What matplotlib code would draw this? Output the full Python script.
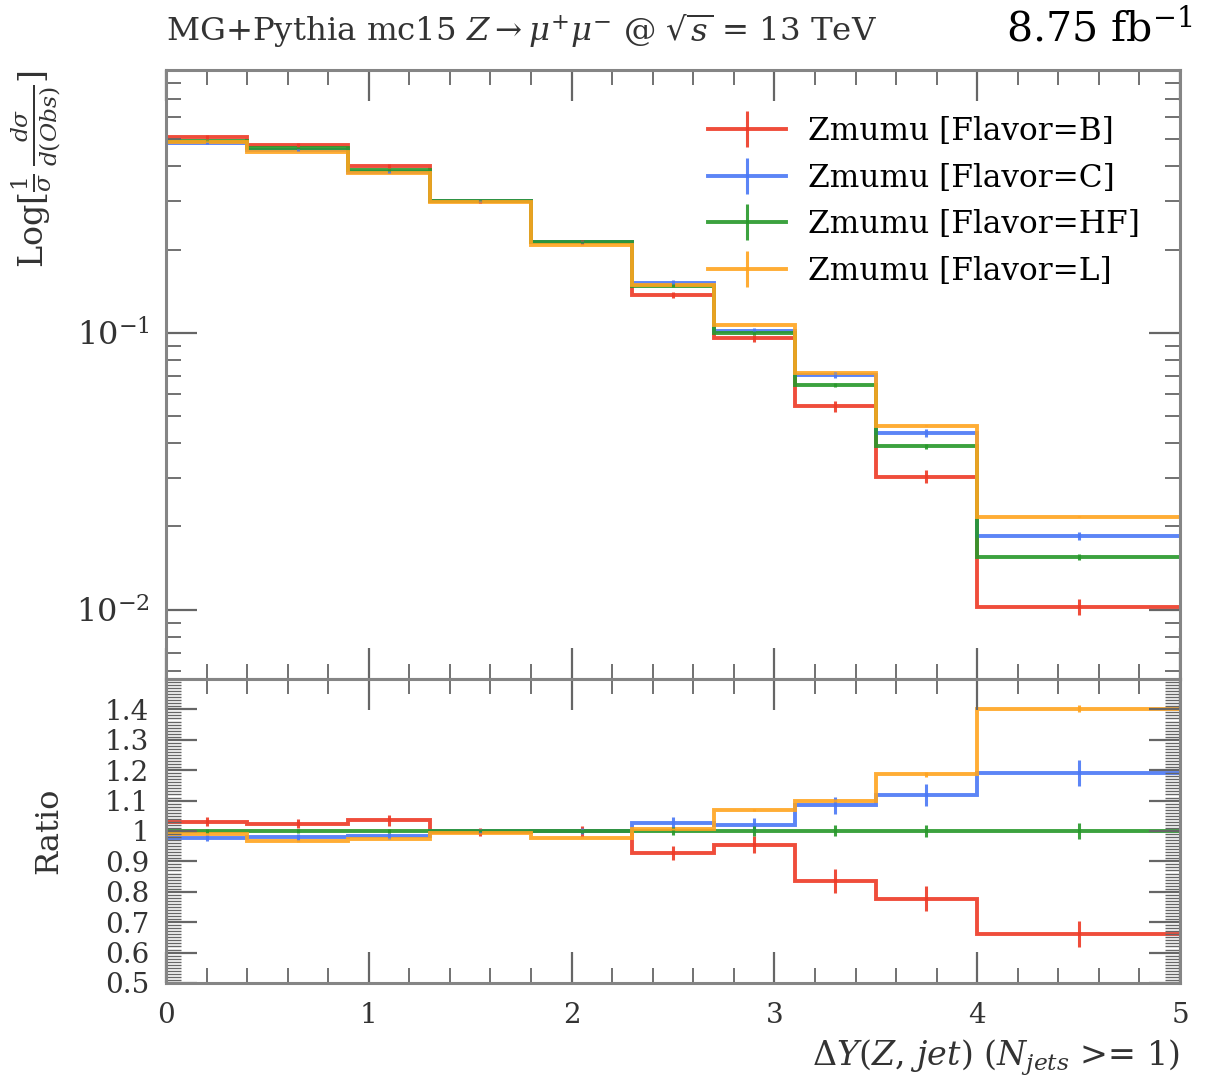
import numpy as np
import matplotlib
matplotlib.use("Agg")
import matplotlib.pyplot as plt
from matplotlib.ticker import MultipleLocator, FixedLocator, LogLocator, FuncFormatter, NullFormatter
from matplotlib.lines import Line2D

plt.rcParams['font.family'] = ['DejaVu Serif']
plt.rcParams['mathtext.fontset'] = 'dejavuserif'

# bins en DeltaY(Z, jet)
edges = [0.0, 0.4, 0.9, 1.3, 1.8, 2.3, 2.7, 3.1, 3.5, 4.0, 5.0]

# distributions normalisées par saveur
val_B = [0.510, 0.477, 0.4005, 0.299, 0.213, 0.1373, 0.0955, 0.0543, 0.0303, 0.01025]
val_C = [0.484, 0.4567, 0.3812, 0.300, 0.213, 0.152, 0.102, 0.0705, 0.0436, 0.01845]
val_HF = [0.495, 0.466, 0.387, 0.300, 0.213, 0.148, 0.100, 0.065, 0.039, 0.0155]
val_L = [0.490, 0.4506, 0.3773, 0.2976, 0.2083, 0.1489, 0.1069, 0.0715, 0.04625, 0.02173]

# erreurs relatives
err_B = [0.015, 0.015, 0.017, 0.012, 0.016, 0.025, 0.03, 0.046, 0.052, 0.066]
err_C = [0.01, 0.01, 0.01, 0.008, 0.01, 0.02, 0.022, 0.026, 0.032, 0.035]
err_HF = [0.006, 0.006, 0.006, 0.005, 0.006, 0.012, 0.015, 0.018, 0.02, 0.025]
err_L = [0.002, 0.002, 0.002, 0.002, 0.002, 0.003, 0.004, 0.005, 0.006, 0.008]

labels = ['Zmumu [Flavor=B]', 'Zmumu [Flavor=C]', 'Zmumu [Flavor=HF]', 'Zmumu [Flavor=L]']
colors = ['#ee3a26', '#4a78f5', '#27982a', '#ffa41f']

edges = np.array(edges)
centres = 0.5 * (edges[1:] + edges[:-1])
series = [np.array(v) for v in (val_B, val_C, val_HF, val_L)]
errors = [np.array(e) for e in (err_B, err_C, err_HF, err_L)]
ref = np.array(val_HF)

fig = plt.figure(figsize=(12.14, 10.81), dpi=100)
ax = fig.add_axes([0.1367, 0.3719, 0.8353, 0.5634])
axr = fig.add_axes([0.1367, 0.0907, 0.8353, 0.2812], sharex=ax)

frame_col = '#858585'
txt_col = '#333333'
lw = 2.8

for v, e, c in zip(series, errors, colors):
    ax.stairs(v, edges, baseline=None, color=c, lw=lw, alpha=0.9)
    ax.errorbar(centres, v, yerr=v * e, fmt='none', ecolor=c, elinewidth=2.2, alpha=0.9)
    r = v / ref
    axr.stairs(r, edges, baseline=None, color=c, lw=lw, alpha=0.9)
    axr.errorbar(centres, r, yerr=r * e, fmt='none', ecolor=c, elinewidth=2.2, alpha=0.9)

ax.set_yscale('log')
ax.set_ylim(0.00563, 0.89)
ax.set_xlim(0, 5)
axr.set_ylim(0.5, 1.5)

for a in (ax, axr):
    for s in a.spines.values():
        s.set_color(frame_col)
        s.set_linewidth(2.2)
    a.tick_params(which='both', direction='in', top=True, right=True, color='#666666')
    a.tick_params(which='major', length=22, width=1.6, labelsize=20, pad=12)
    a.tick_params(which='minor', length=10.5, width=1.3)
    a.xaxis.set_major_locator(MultipleLocator(1))
    a.xaxis.set_minor_locator(MultipleLocator(0.2))

ax.yaxis.set_major_locator(LogLocator(base=10))
ax.yaxis.set_minor_locator(LogLocator(base=10, subs=np.arange(2, 10)))
ax.yaxis.set_minor_formatter(NullFormatter())
ax.tick_params(axis='x', labelbottom=False)
ax.tick_params(axis='y', labelcolor=txt_col, labelsize=23)

axr.yaxis.set_major_locator(FixedLocator(np.arange(0.5, 1.45, 0.1)))
axr.yaxis.set_minor_locator(MultipleLocator(0.01))
axr.yaxis.set_major_formatter(FuncFormatter(lambda y, p: '1' if abs(y - 1) < 1e-6 else '%.1f' % y))
axr.tick_params(axis='y', which='minor', length=10.5, width=1.0)
axr.tick_params(axis='both', labelcolor=txt_col)
axr.tick_params(axis='x', pad=14)

ax.set_ylabel(r'Log[$\frac{1}{\sigma}\,\frac{d\sigma}{d(Obs)}$]', fontsize=24, loc='top', color=txt_col)
ax.yaxis.set_label_coords(-0.103, 1.0)
axr.set_ylabel('Ratio', fontsize=23, color=txt_col)
axr.yaxis.set_label_coords(-0.1, 0.5)
axr.set_xlabel(r'$\Delta Y(Z,\,jet)$ ($N_{jets}$ >= 1)', fontsize=24, loc='right', color=txt_col,
               labelpad=6)

fig.text(0.1367, 0.972, r'MG+Pythia mc15 $Z \rightarrow \mu^{+}\mu^{-}$ @ $\sqrt{s}$ = 13 TeV',
         fontsize=23.3, color=txt_col, va='center', ha='left')
fig.text(0.982, 0.972, r'8.75 fb$^{-1}$', fontsize=29.5, color='black', va='center', ha='right')

handles = [Line2D([0], [0], color=c, lw=lw, marker='|', markersize=26, markeredgewidth=2.2, alpha=0.9)
           for c in colors]
ax.legend(handles, labels, loc='upper right', bbox_to_anchor=(0.973, 0.945), frameon=False,
          fontsize=22.5, handlelength=2.5, handletextpad=0.7, labelspacing=0.5, borderaxespad=0)

fig.savefig('out.png', dpi=100)
